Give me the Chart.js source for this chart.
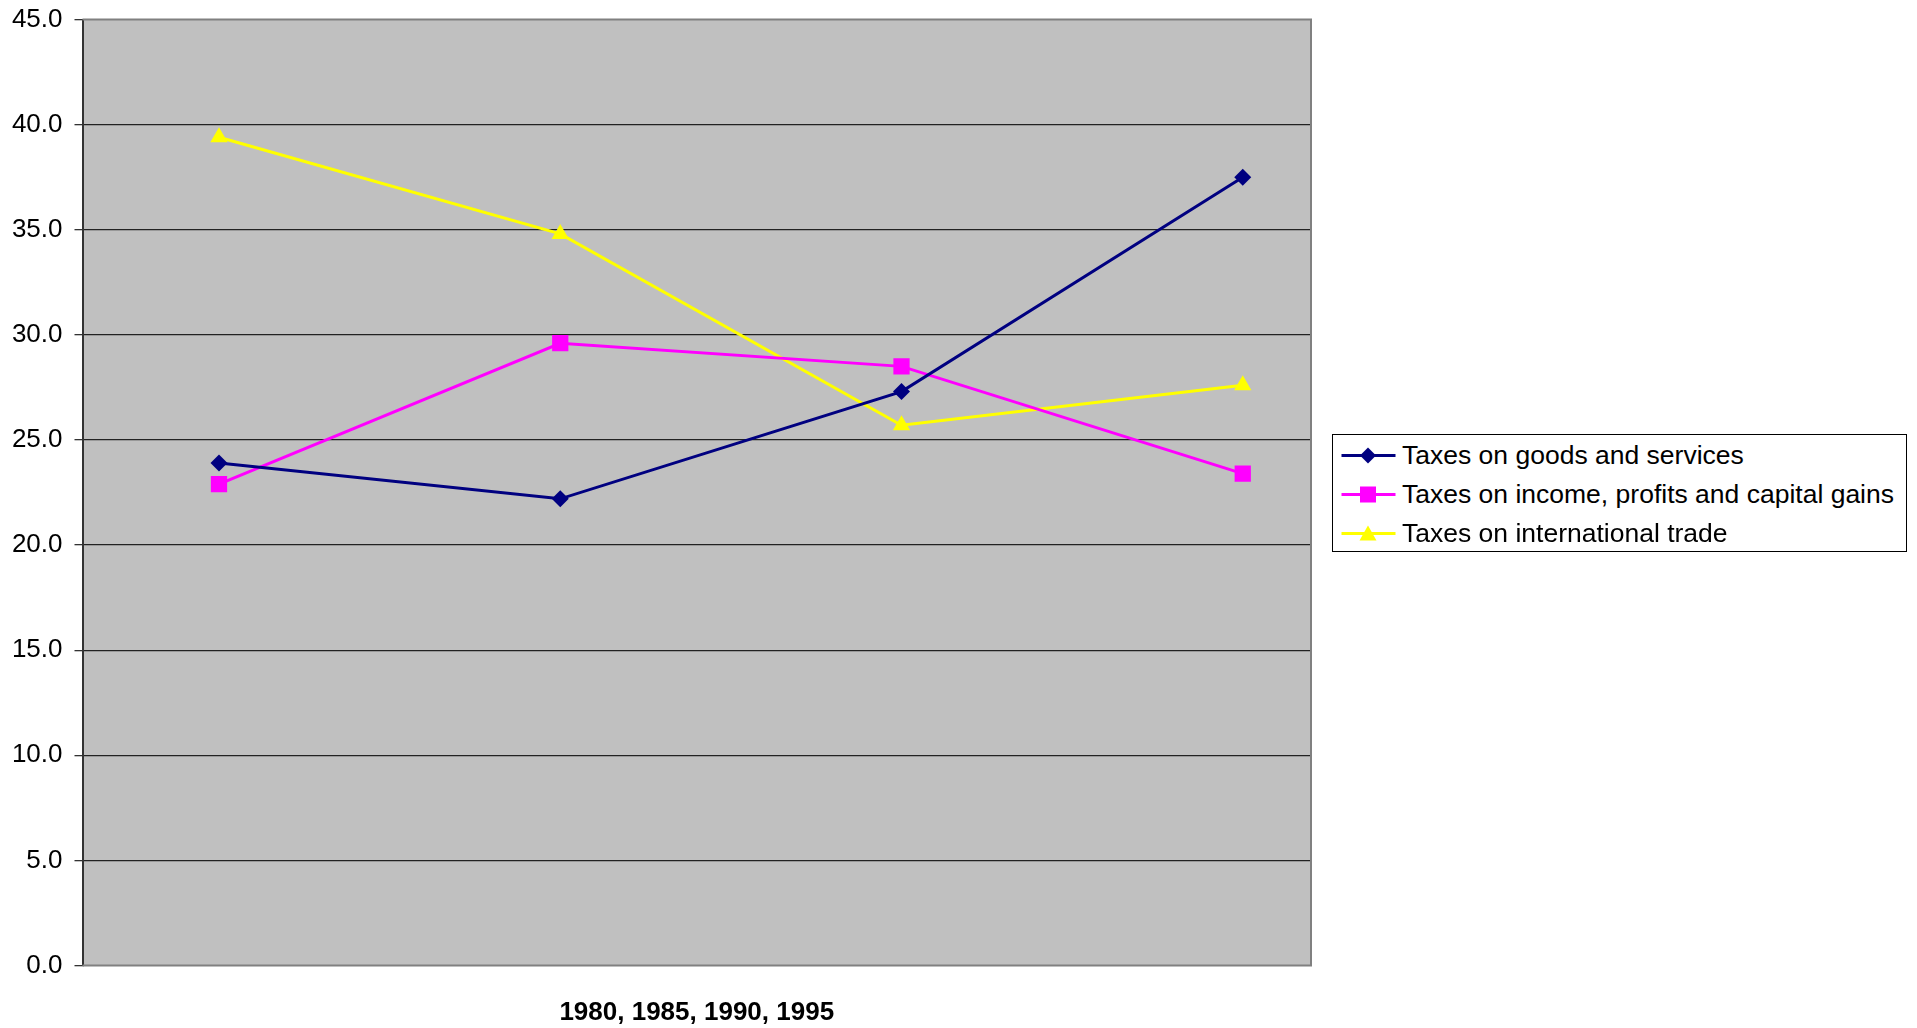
<!DOCTYPE html>
<html>
<head>
<meta charset="utf-8">
<title>Tax revenue shares</title>
<script src="https://cdn.jsdelivr.net/npm/chart.js@4/dist/chart.umd.min.js"></script>
<style>
  html, body { margin: 0; padding: 0; background: #fff; overflow: hidden; }
  #wrap { position: relative; width: 1917px; height: 1028px; }
  #taxChart { display: block; }
  #legend {
    position: absolute; left: 1332px; top: 434px; width: 573px; height: 116px;
    border: 1px solid #000; background: #fff; box-sizing: content-box;
    font-family: "Liberation Sans", Arial, sans-serif; font-size: 26.5px; color: #000;
  }
  .legend-row { position: absolute; left: 0; height: 39px; line-height: 39px; white-space: nowrap; }
  .legend-row svg { position: absolute; left: 8px; top: 0; }
  .legend-row span { position: absolute; left: 69px; top: 0; }
</style>
</head>
<body>
<div id="wrap">
  <canvas id="taxChart" width="1917" height="1028"></canvas>
  <div id="legend"></div>
</div>
<script>
const years = [1980, 1985, 1990, 1995];
const seriesNames = [
  "Taxes on goods and services",
  "Taxes on income, profits and capital gains",
  "Taxes on international trade"
];
const goodsServices = [23.9, 22.2, 27.3, 37.5];
const incomeProfits = [22.9, 29.6, 28.5, 23.4];
const internationalTrade = [39.4, 34.8, 25.7, 27.6];
const yTicks = [0, 5, 10, 15, 20, 25, 30, 35, 40, 45];
const xTitle = "1980, 1985, 1990, 1995";

const seriesColors = ["#000080", "#FF00FF", "#FFFF00"];
const seriesMarkers = ["rectRot", "rect", "triangle"];
const markerRadius = [8.5, 11.5, 10];
const seriesValues = [goodsServices, incomeProfits, internationalTrade];

// background + grey frame of the plot area
const plotFrame = {
  id: "plotFrame",
  beforeDraw(chart) {
    const { ctx, chartArea: a } = chart;
    ctx.save();
    ctx.fillStyle = "#C0C0C0";
    ctx.fillRect(a.left, a.top, a.right - a.left, a.bottom - a.top);
    ctx.restore();
  },
  beforeDatasetsDraw(chart) {
    const { ctx, chartArea: a } = chart;
    ctx.save();
    ctx.strokeStyle = "#808080";
    ctx.lineWidth = 2;
    ctx.beginPath();
    ctx.moveTo(a.left, a.top);
    ctx.lineTo(a.right, a.top);
    ctx.lineTo(a.right, a.bottom);
    ctx.lineTo(a.left, a.bottom);
    ctx.stroke();
    ctx.restore();
  }
};

const datasets = seriesNames.map((name, i) => ({
  label: name,
  data: years.map((yr, j) => ({ x: yr, y: seriesValues[i][j] })),
  borderColor: seriesColors[i],
  backgroundColor: seriesColors[i],
  borderWidth: 3,
  pointStyle: seriesMarkers[i],
  pointRadius: markerRadius[i],
  pointHoverRadius: markerRadius[i],
  pointBorderWidth: 0,
  tension: 0
}));

const ctx = document.getElementById("taxChart").getContext("2d");
new Chart(ctx, {
  type: "line",
  data: { datasets: datasets },
  options: {
    responsive: false,
    devicePixelRatio: 1,
    animation: false,
    layout: { padding: { top: 19.5, right: 606, left: 0, bottom: 0 } },
    plugins: {
      legend: { display: false },
      tooltip: { enabled: false }
    },
    scales: {
      x: {
        type: "linear",
        min: 1978,
        max: 1996,
        afterFit: s => { s.height = 62.5; },
        ticks: { display: false },
        grid: { display: false, drawTicks: false },
        border: { display: false },
        title: {
          display: true,
          text: xTitle,
          color: "#000",
          font: { family: "Liberation Sans", size: 26, weight: "bold", lineHeight: 1.2 },
          padding: { top: 0, bottom: 0 }
        }
      },
      y: {
        min: 0,
        max: 45,
        afterFit: s => { s.width = 82.5; s.paddingTop = 0; s.paddingBottom = 0; },
        afterBuildTicks: s => { s.ticks = yTicks.map(v => ({ value: v })); },
        ticks: {
          color: "#000",
          padding: 12,
          font: { family: "Liberation Sans", size: 26 },
          callback: v => v.toFixed(1)
        },
        grid: {
          color: c => (c.tick && (c.tick.value === 45 || c.tick.value === 0)) ? "rgba(0,0,0,0)" : "#222",
          lineWidth: 1.3,
          tickColor: "#333",
          tickLength: 8
        },
        border: { display: true, color: "#333", width: 2 }
      }
    }
  },
  plugins: [plotFrame]
});

// legend box built from the same series lists
function markerSvg(i) {
  const c = seriesColors[i];
  let shape;
  if (seriesMarkers[i] === "rectRot") shape = `<polygon points="27,11.5 35,19.5 27,27.5 19,19.5" fill="${c}"/>`;
  else if (seriesMarkers[i] === "rect") shape = `<rect x="19" y="11.5" width="16" height="16" fill="${c}"/>`;
  else shape = `<polygon points="27,11.5 35.5,26.5 18.5,26.5" fill="${c}"/>`;
  return `<svg width="56" height="39" viewBox="0 0 56 39"><line x1="0.5" y1="19.5" x2="54.5" y2="19.5" stroke="${c}" stroke-width="3"/>${shape}</svg>`;
}
const legend = document.getElementById("legend");
seriesNames.forEach((name, i) => {
  const row = document.createElement("div");
  row.className = "legend-row";
  row.style.top = (0.5 + i * 39) + "px";
  row.innerHTML = markerSvg(i) + `<span>${name}</span>`;
  legend.appendChild(row);
});
</script>
</body>
</html>
